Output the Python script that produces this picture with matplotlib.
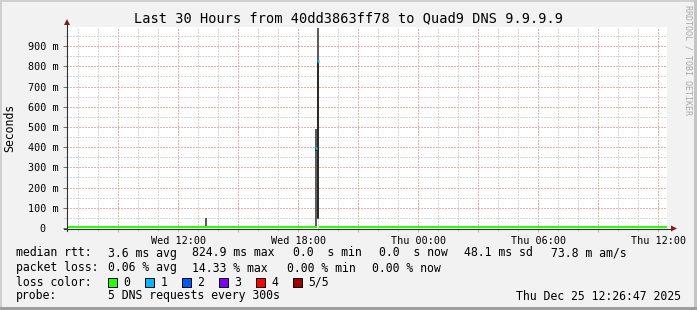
import matplotlib
matplotlib.use('Agg')
import matplotlib.pyplot as plt
import matplotlib.dates as mdates
from matplotlib.patches import Rectangle, Polygon
from matplotlib.lines import Line2D
from matplotlib.ticker import MultipleLocator, FuncFormatter
import pandas as pd

# ---------------- data ----------------
title = "Last 30 Hours from 40dd3863ff78 to Quad9 DNS 9.9.9.9"
t_start = "2025-12-24 06:26:47"
t_end = "2025-12-25 12:26:47"
y_max = 0.995

# smoke: sorted pings (seconds) per 5-minute step
smoke_times = ["2025-12-24 13:25", "2025-12-24 18:55", "2025-12-24 19:00"]
ping_1 = [0.002, 0.003, 0.045]
ping_2 = [0.003, 0.380, 0.048]
ping_3 = [0.004, 0.396, 0.826]
ping_4 = [0.050, 0.490, 0.990]

# median rtt step segments (start times), values (s), lost pings
median_starts = ["2025-12-24 06:26:47", "2025-12-24 18:52:30",
                 "2025-12-24 18:57:30", "2025-12-24 19:02:30"]
median_values = [0.0036, 0.396, 0.826, 0.0036]
median_loss = [0, 1, 1, 0]

loss_labels = ["0", "1", "2", "3", "4", "5/5"]
loss_colors = ["#26ff00", "#00b8ff", "#0059ff", "#7e00ff", "#ff0000", "#a00000"]

legend_rtt = ["3.6 ms avg", "824.9 ms max", "0.0  s min", "0.0  s now",
              "48.1 ms sd", "73.8 m am/s"]
legend_pl = ["0.06 % avg", "14.33 % max", "0.00 % min", "0.00 % now"]
probe_text = "5 DNS requests every 300s"
stamp_text = "Thu Dec 25 12:26:47 2025"
watermark = "RRDTOOL / TOBI OETIKER"

# ---------------- layout helpers ----------------
W, H = 697, 310
MONO = "DejaVu Sans Mono"


def fx(x):
    return x / W


def fy(y):
    return 1 - y / H


fig = plt.figure(figsize=(W / 100, H / 100), dpi=100)
fig.patch.set_facecolor("#F2F2F2")

# 3D border
fig.add_artist(Rectangle((0, 0), fx(2), 1, transform=fig.transFigure, color="#D0D0D0", lw=0))
fig.add_artist(Rectangle((0, fy(2)), 1, 2 / H, transform=fig.transFigure, color="#D0D0D0", lw=0))
fig.add_artist(Rectangle((fx(W - 3), 0), 3 / W, 1, transform=fig.transFigure, color="#C4C4C4", lw=0))
fig.add_artist(Rectangle((0, 0), 1, 3 / H, transform=fig.transFigure, color="#9E9E9E", lw=0))

ax = fig.add_axes([fx(67), fy(228), 600 / W, 201 / H])
ax.set_facecolor("white")
x0 = mdates.date2num(pd.Timestamp(t_start))
x1 = mdates.date2num(pd.Timestamp(t_end))
ax.set_xlim(x0, x1)
ax.set_ylim(0, y_max)

# grid
ax.xaxis.set_major_locator(mdates.HourLocator(byhour=range(0, 24, 3)))
ax.xaxis.set_minor_locator(mdates.HourLocator(interval=1))


def xfmt(v, pos):
    d = mdates.num2date(v)
    if d.hour % 6 == 0:
        return d.strftime("%a %H:%M")
    return ""


ax.xaxis.set_major_formatter(FuncFormatter(xfmt))
ax.yaxis.set_major_locator(MultipleLocator(0.1))
ax.yaxis.set_minor_locator(MultipleLocator(0.05))


def yfmt(v, pos):
    n = int(round(v * 1000))
    if n == 0:
        return "0  "
    return f"{n} m"


ax.yaxis.set_major_formatter(FuncFormatter(yfmt))
ax.set_axisbelow(True)
ax.grid(which="major", color="#EFAFAF", lw=1.0, ls=(0, (1, 1.4)), antialiased=False)
ax.grid(which="minor", color="#D6D6D6", lw=1.0, ls=(0, (1, 1.4)), antialiased=False)

for s in ax.spines.values():
    s.set_visible(False)
ax.tick_params(axis="x", which="major", length=3, width=0.72, color="#E8A0A0",
               labelsize=7.3, pad=3)
ax.tick_params(axis="x", which="minor", length=2, width=0.72, color="#C8C8C8")
ax.tick_params(axis="y", which="major", length=3, width=0.72, color="#707070",
               labelsize=7.3, pad=3)
ax.tick_params(axis="y", which="minor", length=2, width=0.72, color="#C8C8C8")
for lab in ax.get_xticklabels() + ax.get_yticklabels():
    lab.set_fontfamily(MONO)

# smoke (outer pair lighter, inner pair darker)
step = 5 / 1440
bar_w = step * 1.2
st = [mdates.date2num(pd.Timestamp(t)) for t in smoke_times]
ax.bar(st, [h - l for h, l in zip(ping_4, ping_1)], bottom=ping_1, width=bar_w,
       color="#5c5c5c", lw=0, zorder=3)
ax.bar(st, [h - l for h, l in zip(ping_3, ping_2)], bottom=ping_2, width=bar_w,
       color="#2a2a2a", lw=0, zorder=4)

# median line
ms = [mdates.date2num(pd.Timestamp(t)) for t in median_starts] + [x1]
for i, v in enumerate(median_values):
    c = loss_colors[median_loss[i]]
    if median_loss[i] == 0:
        ax.hlines(v, ms[i], ms[i + 1], color=c, lw=0.75, zorder=5, antialiased=False)
    else:
        ax.hlines(v, ms[i] - step * 0.1, ms[i + 1] + step * 0.1, color=c, lw=2.0, zorder=5)

# axis lines and arrows
fig.add_artist(Line2D([fx(67), fx(67)], [fy(231), fy(23)], color="#303030", lw=0.8))
fig.add_artist(Line2D([fx(64), fx(671)], [fy(228.6), fy(228.6)], color="#303030", lw=0.8))
fig.add_artist(Polygon([(fx(64), fy(25)), (fx(70), fy(25)), (fx(67), fy(19))],
                       closed=True, transform=fig.transFigure, color="#8b1a1a", lw=0))
fig.add_artist(Polygon([(fx(671), fy(225.5)), (fx(671), fy(231.5)), (fx(677), fy(228.5))],
                       closed=True, transform=fig.transFigure, color="#8b1a1a", lw=0))

# title, y label, watermark
fig.text(fx(348.5), fy(18), title, ha="center", va="center", fontsize=9.8,
         family=MONO, color="#000000")
fig.text(fx(10), fy(127.5), "Seconds", ha="center", va="center", fontsize=8.3,
         family=MONO, rotation=90, color="#000000")
fig.text(fx(688), fy(60), watermark, ha="center", va="center", fontsize=6,
         family=MONO, rotation=270, color="#A8A8A8")

# legend
tk = dict(fontsize=8.3, family=MONO, va="center", color="#000000")
fig.text(fx(16), fy(253), "median rtt:", **tk)
for x, s in zip([107.6, 192, 293, 379, 464, 551], legend_rtt):
    fig.text(fx(x), fy(253), s, **tk)
fig.text(fx(16), fy(268), "packet loss:", **tk)
for x, s in zip([107.6, 192, 287, 372], legend_pl):
    fig.text(fx(x), fy(268), s, **tk)
fig.text(fx(16), fy(282), "loss color:", **tk)
for i, (lab, c) in enumerate(zip(loss_labels, loss_colors)):
    bx = 108 + 37 * i
    fig.add_artist(Rectangle((fx(bx), fy(287)), 9 / W, 9 / H, transform=fig.transFigure,
                             facecolor=c, edgecolor="#000000", lw=0.7))
    fig.text(fx(bx + 15.5), fy(282), lab, **tk)
fig.text(fx(16), fy(296), "probe:", **tk)
fig.text(fx(108), fy(296), probe_text, **tk)
fig.text(fx(681), fy(296), stamp_text, ha="right", **tk)

fig.savefig("out.png", dpi=100, facecolor=fig.get_facecolor())
